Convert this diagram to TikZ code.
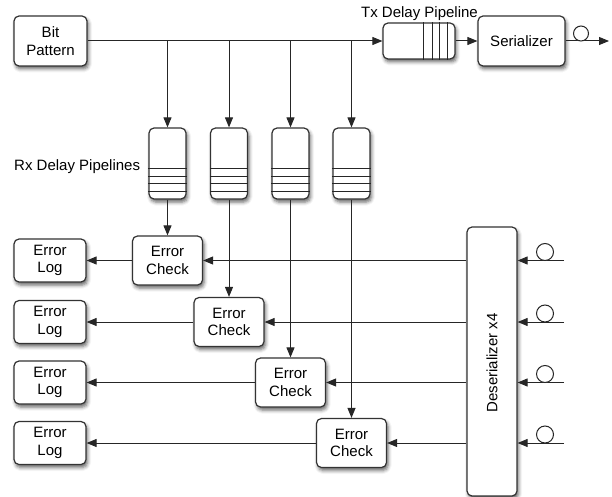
\documentclass[tikz,border=0pt]{standalone}
\usepackage{fontspec}
\setmainfont{Liberation Sans}
\usetikzlibrary{arrows.meta,shadows.blur}
\begin{document}
\begin{tikzpicture}[x=1pt,y=-1pt,
  box/.style={draw=black!80, line width=1.2pt, rounded corners=5pt, fill=white,
    blur shadow={shadow xshift=1.5pt, shadow yshift=-3pt, shadow blur radius=3.5pt, shadow opacity=60},
    align=center, font=\fontsize{15}{17.5}\selectfont, inner sep=0pt},
  conn/.style={draw=black!85, line width=1pt},
  arr/.style={conn, -{Triangle[length=10pt,width=8pt]}},
  loopc/.style={draw=black!85, line width=1pt, fill=white},
  lbl/.style={font=\fontsize{15}{17.5}\selectfont, inner sep=0pt}
]
\useasboundingbox (0,0) rectangle (612,497);

% top row
\node[box, minimum width=73pt, minimum height=50pt] (bp) at (50.5,41) {Bit\\Pattern};
\node[box, minimum width=72pt, minimum height=36pt] (tx) at (419,41) {};
\foreach \x in {423,432,439,447} \draw[conn] (\x,0 |- tx.north) -- (\x,0 |- tx.south);
\node[box, minimum width=87pt, minimum height=50pt] (ser) at (521.5,41) {Serializer};
\node[lbl, anchor=base] (txl) at (419.5,18) {Tx Delay Pipeline};
\coordinate (out) at (609,41);

\draw[arr] (bp.east) -- (tx.west);
\draw[arr] (tx.east) -- (ser.west);
\draw[arr] (ser.east) -- (out);
\draw[loopc] (581,33.5) circle (7.5pt);

% rx pipelines
\node[lbl, anchor=base west] (rxl) at (14,170) {Rx Delay Pipelines};
\foreach \i/\x in {1/167.5,2/229,3/290.5,4/351.5}{
  \node[box, minimum width=37pt, minimum height=71pt] (p\i) at (\x,163.5) {};
  \foreach \yy in {168,176,183,191} \draw[conn] (p\i.west |- 0,\yy) -- (p\i.east |- 0,\yy);
  \coordinate (b\i) at (\x,41);
  \draw[arr] (b\i) -- (p\i.north);
}

% deserializer
\node[box, minimum width=50pt, minimum height=269pt] (des) at (492,361.5) {};
\node[lbl, rotate=90] (desl) at (492,363) {Deserializer x4};

% rows
\foreach \i/\x/\y in {1/167.5/260.5,2/229/322,3/290.5/382.5,4/351.5/443}{
  \node[box, minimum width=70pt, minimum height=49pt] (ec\i) at (\x,\y) {Error\\Check};
  \node[box, minimum width=72pt, minimum height=43pt] (el\i) at (50,\y) {Error\\Log};
  \coordinate (in\i) at (564,\y);
}
\foreach \i in {1,2,3,4}{
  \draw[arr] (p\i.south) -- (ec\i.north);
  \draw[arr] (des.west |- ec\i.east) -- (ec\i.east);
  \draw[arr] (ec\i.west) -- (el\i.east);
  \draw[arr] (in\i) -- (des.east |- in\i);
}
\foreach \y in {260.5,322,382.5,443} \draw[loopc] (545,\y-8.5) circle (8.5pt);
\end{tikzpicture}
\end{document}
